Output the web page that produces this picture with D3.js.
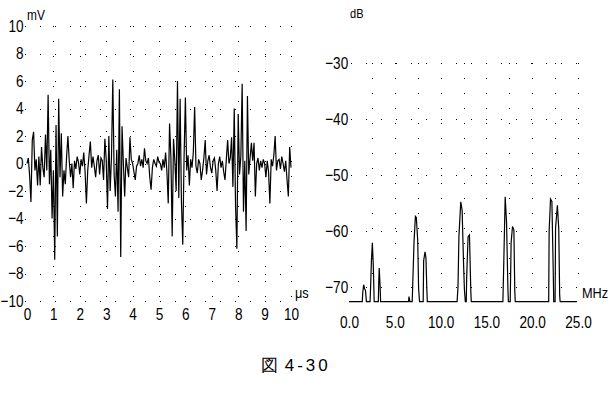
<!DOCTYPE html>
<html><head><meta charset="utf-8">
<script src="https://cdn.jsdelivr.net/npm/d3@7"></script>
<style>
body{margin:0;background:#fff}
svg{display:block}
text{font-family:"Liberation Sans",Arial,sans-serif;fill:#000}
</style>
</head><body>
<svg id="c" width="611" height="400"></svg>
<script>
// ---- Left panel: time waveform ----
const timeTicks = [0,1,2,3,4,5,6,7,8,9,10];
const voltTicks = [-10,-8,-6,-4,-2,0,2,4,6,8,10];
const sampleStepMs = 0.05;
const voltage = [
 0, 0.4, -0.9, -2.8, 1.7, 2.3, -0.5, 0.3, -1.6, 0.5,
 -1.6, 1.2, -0.3, -1.0, 2.1, -0.5, 5.0, -1.5, 1.0, -4.0,
 -0.5, -7.0, 2.8, -5.3, 4.7, -1.0, 2.2, -2.4, -0.5, -1.5,
 0.5, 2.0, 0.2, -1.0, 0.0, -1.8, 0.2, -0.4, 0.5, 0.1,
 -0.8, 0.3, -0.2, 0.8, -0.6, -2.9, -0.5, 0.6, 1.6, -0.3,
 0.5, -0.2, -1.0, 0.2, 0.6, -0.8, 0.4, 0.2, -1.2, 1.8,
 0.3, -3.3, 2.0, -2.0, 0.5, 6.1, -0.8, -2.4, 1.0, -3.5,
 5.4, -6.8, 2.7, 0.0, -2.4, 0.4, -0.3, -1.0, 1.9, 0.3,
 0.0, -0.6, -1.2, -0.2, 0.0, 0.6, -0.2, 0.3, -0.3, 1.1,
 0.2, 0.0, 0.4, -1.0, -1.9, -0.3, 0.3, 0.0, -0.2, 0.5,
 0.1, 0.0, -0.5, 0.3, -0.3, 0.8, -0.6, -2.9, 2.9, 0.5,
 -5.3, 1.8, 0.2, -2.0, 6.0, -2.5, 4.7, -2.8, -5.9, 0.5,
 4.8, -0.5, 0.6, -1.6, 0.3, -0.3, 0.8, 4.1, -0.2, -0.7,
 0.3, 0.0, -1.2, -0.5, 0.4, 1.7, -0.8, 0.2, 0.6, -0.3,
 -0.7, 0.2, 0.4, -0.5, -2.0, 0.0, 0.5, -0.3, 0.2, -0.6,
 -1.2, 0.3, 1.7, 0.0, 0.4, 1.9, -1.7, 4.0, -3.1, -6.2,
 3.6, -0.8, 0.5, 5.8, -3.5, 0.2, -4.9, 4.9, -0.8, 0.4,
 1.5, 0.2, 1.5, -2.4, 0.0, 0.4, -0.5, 0.2, -0.3, 0.3,
 0.0, -1.0, 0.2, -0.6, -2.9, 0.3, -0.2, 0.6, 2.0, -0.5,
 0.2, 0.3, -0.4, 0.5, 0.0, -0.6, 0.2, -1.2, -2.4, 1.2,
 -0.3
];

// ---- Right panel: spectrum ----
const freqTicks = [0,5,10,15,20,25];
const dbTicks = [-30,-40,-50,-60,-70];
const freqGrid = [2.5,5,7.5,10,12.5,15,17.5,20,22.5,25];
const freqMHz = [
 0.0, 1.45, 1.5, 1.6, 1.7, 1.8, 1.9,
 2.3, 2.35, 2.45, 2.55, 2.65, 2.75,
 3.2, 3.25, 3.3, 3.4, 3.45,
 6.5, 6.55, 6.65,
 6.9, 6.95, 7.1, 7.25, 7.35, 7.5, 7.6, 7.7,
 8.1, 8.15, 8.3, 8.4, 8.5, 8.55,
 11.8, 11.9, 12.0, 12.2, 12.35, 12.5, 12.6, 12.7,
 12.8, 12.85, 13.0, 13.15, 13.3, 13.35,
 16.8, 16.9, 17.05, 17.2, 17.35, 17.4,
 17.6, 17.7, 17.85, 18.0, 18.1, 18.15,
 21.8, 21.85, 22.0, 22.15, 22.3, 22.35,
 22.5, 22.55, 22.75, 22.9, 23.0, 23.05,
 24.9
];
const levelDb = [
 -72.6, -72.6, -71, -69.6, -70.3, -70.6, -72.6,
 -72.6, -70.5, -65.2, -62.1, -66, -72.6,
 -72.6, -69, -66.6, -70, -72.6,
 -72.6, -71.7, -72.6,
 -72.6, -70, -61.9, -57.4, -57.6, -61.6, -70.3, -72.6,
 -72.6, -65.3, -63.7, -64.8, -70.5, -72.6,
 -72.6, -70, -61, -54.8, -56.3, -65.5, -70.5, -72.6,
 -72.6, -68, -61, -60.7, -70.8, -72.6,
 -72.6, -65.5, -53.9, -58.5, -70.5, -72.6,
 -72.6, -62, -59.2, -59.8, -70.8, -72.6,
 -72.6, -60, -54.3, -54.7, -67.5, -72.6,
 -72.6, -59.5, -55.4, -59.7, -71.5, -72.6,
 -72.6
];

const svg = d3.select("#c");
const narrow = sel => sel.attr("font-size",17).attr("font-family",null).attr("transform","scale(0.8,1)");
const label = (x, y, size, txt) => svg.append("text")
  .attr("transform",`translate(${x},${y}) scale(0.85,1)`).attr("font-size",size).text(txt);

// ===== Left chart =====
const xT = d3.scaleLinear().domain([0,10]).range([27,291]);
const yV = d3.scaleLinear().domain([-10,10]).range([301,26]);

const gridL = svg.append("g").attr("stroke","#000").attr("stroke-width",1).attr("stroke-dasharray","1 14");
gridL.selectAll("line.h").data(voltTicks).join("line")
  .attr("x1",25).attr("x2",xT(10)).attr("y1",d=>Math.round(yV(d))+0.5).attr("y2",d=>Math.round(yV(d))+0.5);
gridL.selectAll("line.v").data(timeTicks.slice(1)).join("line")
  .attr("x1",d=>Math.round(xT(d))+0.5).attr("x2",d=>Math.round(xT(d))+0.5).attr("y1",yV(10)).attr("y2",yV(-10));

const line1 = d3.line().x((d,i)=>xT(i*sampleStepMs)).y(d=>yV(d));
svg.append("path").datum(voltage).attr("d",line1)
  .attr("fill","none").attr("stroke","#000").attr("stroke-width",1.2);

const axL = svg.append("g").attr("transform","translate(24,0)")
  .call(d3.axisLeft(yV).tickValues(voltTicks).tickSize(0).tickPadding(0.5));
axL.select(".domain").remove();
axL.selectAll("text").call(narrow);

const axB = svg.append("g").attr("transform","translate(0,304)")
  .call(d3.axisBottom(xT).tickValues(timeTicks).tickSize(0).tickPadding(4));
axB.select(".domain").remove();
axB.selectAll("text").call(narrow);

label(27, 20, 14, "mV");
label(295, 298, 15, "μs");

// ===== Right chart =====
const xF = d3.scaleLinear().domain([0,25]).range([349,578]);
const yD = d3.scaleLinear().domain([-70,-30]).range([287,63]);

const gridR = svg.append("g").attr("stroke","#000").attr("stroke-width",1).attr("stroke-dasharray","1 14");
gridR.selectAll("line.h").data(dbTicks).join("line")
  .attr("x1",351).attr("x2",xF(25)).attr("y1",d=>Math.round(yD(d))+0.5).attr("y2",d=>Math.round(yD(d))+0.5);
gridR.selectAll("line.v").data(freqGrid).join("line")
  .attr("x1",d=>Math.round(xF(d))+0.5).attr("x2",d=>Math.round(xF(d))+0.5).attr("y1",yD(-30)).attr("y2",yD(-70));

const line2 = d3.line().x((d,i)=>xF(freqMHz[i])).y(d=>yD(d));
svg.append("path").datum(levelDb).attr("d",line2)
  .attr("fill","none").attr("stroke","#000").attr("stroke-width",1.2);

const axR = svg.append("g").attr("transform","translate(349,0)")
  .call(d3.axisLeft(yD).tickValues(dbTicks).tickSize(0).tickPadding(1));
axR.select(".domain").remove();
axR.selectAll("text").call(narrow);

const axRB = svg.append("g").attr("transform","translate(0,312)")
  .call(d3.axisBottom(xF).tickValues(freqTicks).tickFormat(d3.format(".1f")).tickSize(0).tickPadding(4));
axRB.select(".domain").remove();
axRB.selectAll("text").call(narrow);

label(350, 18, 13, "dB");
label(582, 298, 15, "MHz");

// caption
const cap = svg.append("text").attr("y",371)
  .attr("font-family","'Noto Sans CJK JP',sans-serif").attr("font-size",17);
cap.append("tspan").attr("x",261).text("図");
cap.append("tspan").attr("x",277).attr("letter-spacing",3).text(" 4-30");
</script>
</body></html>
